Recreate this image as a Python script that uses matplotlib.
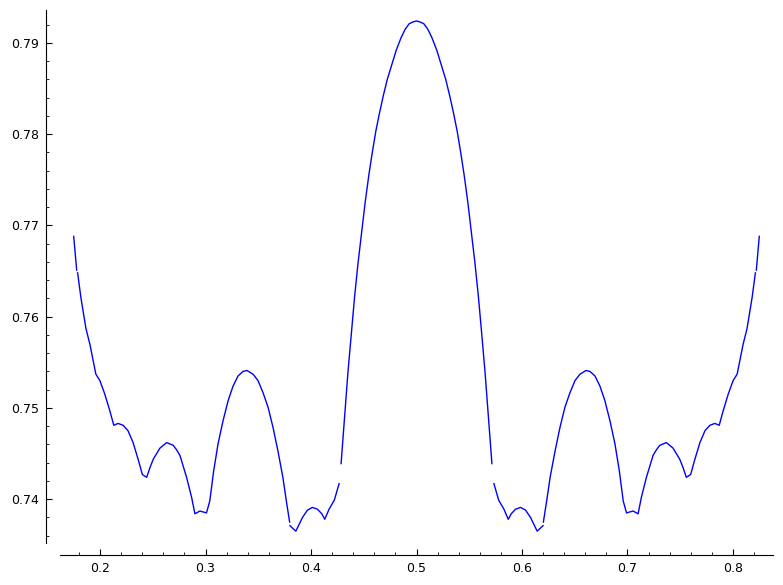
#!/usr/bin/env python3

## Sage-style line plot of a symmetric curve with small breaks

import numpy as np
import matplotlib
matplotlib.use('Agg')
import matplotlib.pyplot as plt
from matplotlib.ticker import MultipleLocator

# curve values, None marks a break in the line
x_left = [0.1750, 0.1778, None,
          0.1787, 0.1818, 0.1866, 0.1903, 0.1960, 0.1998, 0.2045, 0.2092,
          0.2130, 0.2171, 0.2218, 0.2265, 0.2313, 0.2360, 0.2401, 0.2442,
          0.2474, 0.2505, 0.2568, 0.2631, 0.2694, 0.2726, 0.2757, 0.2820,
          0.2868, 0.2899, 0.2946, 0.3009, 0.3040, 0.3077, 0.3119, 0.3166,
          0.3214, 0.3261, 0.3308, 0.3355, 0.3393, 0.3450, 0.3497, 0.3544,
          0.3592, 0.3639, 0.3686, 0.3733, 0.3766, 0.3797, None,
          0.3800, 0.3856, 0.3919, 0.3966, 0.4013, 0.4061, 0.4102, 0.4130,
          0.4171, 0.4221, 0.4244, 0.4266, None]
y_left = [0.7688, 0.7651, None,
          0.7648, 0.7621, 0.7587, 0.7570, 0.7537, 0.7530, 0.7515, 0.7497,
          0.7481, 0.7483, 0.7481, 0.7475, 0.7462, 0.7444, 0.7427, 0.7424,
          0.7435, 0.7444, 0.7456, 0.7462, 0.7459, 0.7454, 0.7448, 0.7424,
          0.7402, 0.7384, 0.7387, 0.7385, 0.7398, 0.7431, 0.7461, 0.7486,
          0.7508, 0.7524, 0.7535, 0.7540, 0.7541, 0.7537, 0.7530, 0.7517,
          0.7501, 0.7479, 0.7453, 0.7424, 0.7398, 0.7375, None,
          0.7371, 0.7365, 0.7380, 0.7388, 0.7391, 0.7389, 0.7384, 0.7378,
          0.7389, 0.7399, 0.7408, 0.7417, None]

x_centre = [0.4285, 0.4319, 0.4350, 0.4383, 0.4414, 0.4446, 0.4479, 0.4513,
            0.4548, 0.4581, 0.4614, 0.4647, 0.4685, 0.4723, 0.4766, 0.4808,
            0.4855, 0.4893, 0.4931, 0.4969, 0.5000,
            0.5031, 0.5069, 0.5107, 0.5145, 0.5192, 0.5234, 0.5277, 0.5315,
            0.5353, 0.5386, 0.5419, 0.5452, 0.5487, 0.5521, 0.5554, 0.5586,
            0.5617, 0.5650, 0.5681, 0.5715, None]
y_centre = [0.7439, 0.7492, 0.7539, 0.7583, 0.7623, 0.7659, 0.7692, 0.7725,
            0.7755, 0.7780, 0.7803, 0.7822, 0.7842, 0.7860, 0.7876, 0.7892,
            0.7906, 0.7915, 0.7921, 0.7923, 0.7924,
            0.7923, 0.7921, 0.7915, 0.7906, 0.7892, 0.7876, 0.7860, 0.7842,
            0.7822, 0.7803, 0.7780, 0.7755, 0.7725, 0.7692, 0.7659, 0.7623,
            0.7583, 0.7539, 0.7492, 0.7439, None]

x_right = [0.5734, 0.5756, 0.5779, 0.5829, 0.5870, 0.5898, 0.5939, 0.5987,
           0.6034, 0.6081, 0.6144, 0.6200, None,
           0.6203, 0.6234, 0.6267, 0.6314, 0.6361, 0.6408, 0.6456, 0.6503,
           0.6550, 0.6607, 0.6645, 0.6692, 0.6739, 0.6786, 0.6834, 0.6881,
           0.6923, 0.6960, 0.6991, 0.7054, 0.7101, 0.7132, 0.7180, 0.7243,
           0.7274, 0.7306, 0.7369, 0.7432, 0.7495, 0.7526, 0.7558, 0.7599,
           0.7640, 0.7687, 0.7735, 0.7782, 0.7829, 0.7870, 0.7908, 0.7955,
           0.8002, 0.8040, 0.8097, 0.8134, 0.8182, 0.8213, None,
           0.8222, 0.8250]
y_right = [0.7417, 0.7408, 0.7399, 0.7389, 0.7378, 0.7384, 0.7389, 0.7391,
           0.7388, 0.7380, 0.7365, 0.7371, None,
           0.7375, 0.7398, 0.7424, 0.7453, 0.7479, 0.7501, 0.7517, 0.7530,
           0.7537, 0.7541, 0.7540, 0.7535, 0.7524, 0.7508, 0.7486, 0.7461,
           0.7431, 0.7398, 0.7385, 0.7387, 0.7384, 0.7402, 0.7424, 0.7448,
           0.7454, 0.7459, 0.7462, 0.7456, 0.7444, 0.7435, 0.7424, 0.7427,
           0.7444, 0.7462, 0.7475, 0.7481, 0.7483, 0.7481, 0.7497, 0.7515,
           0.7530, 0.7537, 0.7570, 0.7587, 0.7621, 0.7648, None,
           0.7651, 0.7688]

x_ticks = [0.2, 0.3, 0.4, 0.5, 0.6, 0.7, 0.8]
x_tick_labels = ['0.2', '0.3', '0.4', '0.5', '0.6', '0.7', '0.8']
y_ticks = [0.74, 0.75, 0.76, 0.77, 0.78, 0.79]
y_tick_labels = ['0.74', '0.75', '0.76', '0.77', '0.78', '0.79']

# join the pieces, None -> nan so the line breaks there
xs = np.array([np.nan if v is None else v for v in x_left + x_centre + x_right])
ys = np.array([np.nan if v is None else v for v in y_left + y_centre + y_right])

fig = plt.figure(figsize=(7.83, 5.85), dpi=100)
ax = fig.add_axes([60/783, 42/585, 713/783, 533/585])

ax.plot(xs, ys, color='#0000ff', linewidth=1.0)

ax.set_xlim(0.162, 0.838)
ax.set_ylim(0.7352, 0.7936)

## spines sit a bit outside the data area, like sage does it
for side in ['top', 'right']:
    ax.spines[side].set_visible(False)
ax.spines['left'].set_position(('outward', 10))
ax.spines['bottom'].set_position(('outward', 8.6))

ax.set_xticks(x_ticks, x_tick_labels)
ax.set_yticks(y_ticks, y_tick_labels)
ax.xaxis.set_minor_locator(MultipleLocator(0.02))
ax.yaxis.set_minor_locator(MultipleLocator(0.002))
ax.tick_params(which='major', direction='in', length=4.5, width=0.8, pad=5, labelsize=9)
ax.tick_params(which='minor', direction='in', length=2.5, width=0.6)

fig.savefig('out.png', dpi=100)
